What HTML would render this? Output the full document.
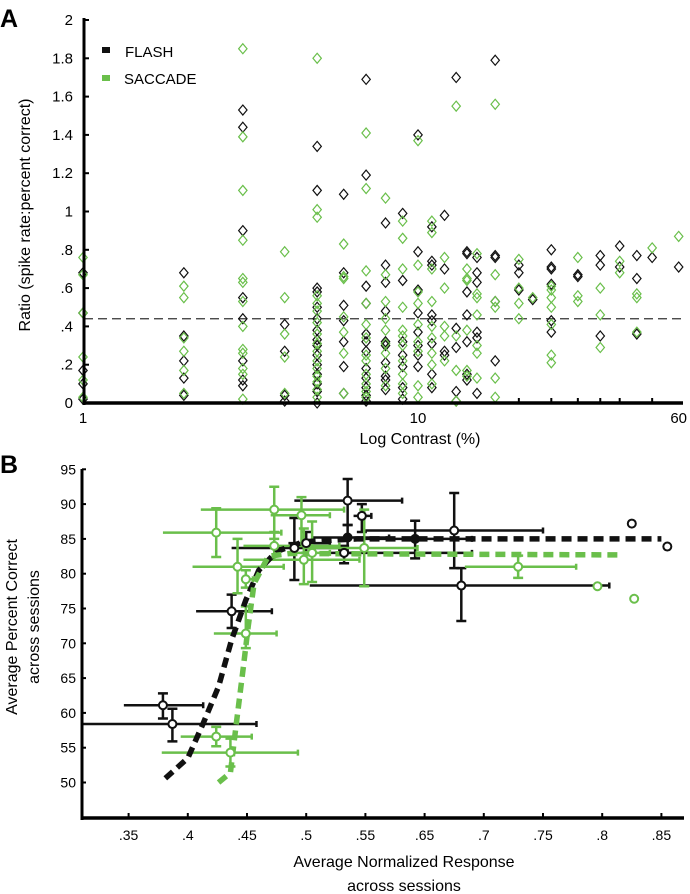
<!DOCTYPE html>
<html><head><meta charset="utf-8"><style>
body{margin:0;background:#fff;}
svg{display:block;font-family:"Liberation Sans",sans-serif;}
</style></head><body>
<svg id="fig" width="690" height="894" viewBox="0 0 690 894">
<text x="0" y="27" font-size="25" font-weight="bold">A</text>
<text x="0" y="473" font-size="25" font-weight="bold">B</text>
<g id="A"></g><g id="B"></g>
</svg>
<script>
// ---------- Panel A data ----------
const contrasts=[1,2,3,4,5,6,7,8,9,10,11,12,13,14,15,17,20,22,25,30,35,40,45,50,60];
const flashRatios=[
[0.68,0.47,0.17,0.10,0.02],
[0.68,0.35,0.22,0.13,0.04],
[1.53,1.44,0.90,0.55,0.44,0.22,0.12,0.09],
[0.41,0.27,0.04,0.01],
[1.34,1.11,0.60,0.58,0.50,0.44,0.38,0.33,0.30,0.25,0.20,0.15,0.10,0.06,0.0],
[1.09,0.68,0.51,0.43,0.32,0.19,0.05],
[1.69,1.19,0.61,0.52,0.36,0.32,0.27,0.18,0.13,0.08,0.04,0.01],
[0.94,0.72,0.63,0.48,0.32,0.30,0.21,0.14,0.12,0.07],
[0.99,0.64,0.32,0.25,0.19,0.08,0.02],
[1.40,0.79,0.59,0.47,0.37,0.30,0.25,0.19],
[0.92,0.74,0.72,0.46,0.43,0.31,0.15,0.08],
[0.98,0.70,0.27,0.25],
[1.70,0.39,0.29,0.06,0.01],
[0.79,0.78,0.58,0.46,0.32,0.15,0.12],
[0.76,0.68,0.63,0.37,0.34,0.05],
[1.79,0.77,0.76,0.53,0.22],
[0.72,0.68,0.59],
[0.54],
[0.80,0.71,0.70,0.62,0.43,0.37],
[0.67,0.66],
[0.77,0.72,0.35],
[0.82,0.71],
[0.77,0.65,0.36],
[0.76],
[0.71]];
const saccadeRatios=[
[0.76,0.67,0.47,0.24,0.12,0.03],
[0.61,0.55,0.34,0.27,0.17,0.05],
[1.85,1.39,1.11,0.85,0.65,0.63,0.53,0.40,0.28,0.26,0.18,0.15,0.02],
[0.79,0.55,0.36,0.24,0.05],
[1.80,1.01,0.97,0.56,0.52,0.48,0.42,0.36,0.31,0.27,0.22,0.18,0.14,0.11,0.07,0.03],
[0.83,0.66,0.65,0.45,0.37,0.26,0.05],
[1.41,1.12,0.69,0.52,0.41,0.34,0.25,0.22,0.15,0.10,0.06,0.03],
[1.07,0.67,0.53,0.44,0.38,0.31,0.26,0.18,0.09],
[0.95,0.86,0.70,0.50,0.38,0.35,0.30,0.22,0.15,0.10,0.05],
[1.37,0.72,0.58,0.52,0.41,0.32,0.27,0.09,0.03],
[0.95,0.89,0.70,0.53,0.40,0.34,0.26,0.20,0.10],
[0.76,0.60,0.40,0.35,0.22],
[1.55,0.35,0.17,0.01],
[0.70,0.65,0.64,0.38,0.17,0.14],
[0.78,0.57,0.55,0.46,0.30,0.26,0.13],
[1.56,0.67,0.53,0.50,0.13,0.03],
[0.75,0.60,0.52,0.44],
[0.55],
[0.61,0.59,0.55,0.50,0.41,0.25,0.21],
[0.76,0.56,0.53],
[0.60,0.46,0.29],
[0.74,0.68],
[0.57,0.55,0.37],
[0.81],
[0.87]];
const aYTicks=[0,0.2,0.4,0.6,0.8,1,1.2,1.4,1.6,1.8,2];
const aYLabels=["0",".2",".4",".6",".8","1","1.2","1.4","1.6","1.8","2"];
const aXLabelVals=[1,10,60];
const aXMinorTicks=[20,25,30,35,40,50];
const refRatio=0.44;

// ---------- Panel B data ----------
const bXTicks=[0.35,0.40,0.45,0.50,0.55,0.60,0.65,0.70,0.75,0.80];
const bXLabels=[".35",".4",".45",".5",".55",".65",".7",".75",".8",".85"];
const bYTicks=[50,55,60,65,70,75,80,85,90,95];
const flashX=[0.379,0.387,0.437,0.490,0.500,0.535,0.547,0.535,0.592,0.625,0.631,0.532,0.775,0.805];
const flashY=[61.1,58.4,74.6,83.7,84.4,90.5,88.3,85.2,85.0,86.2,78.3,83.0,87.2,83.9];
const flashXLo=[0.346,0.31,0.407,0.437,0.485,0.490,0.540,0.505,0.550,0.550,0.503,0.520,null,null];
const flashXHi=[0.413,0.458,0.471,0.528,0.520,0.581,0.555,0.570,0.640,0.700,0.756,0.640,null,null];
const flashYLo=[59.2,55.9,72.2,79.1,83.0,87.0,86.0,83.0,82.2,80.8,73.2,81.5,null,null];
const flashYHi=[62.8,60.6,77.0,88.0,86.0,93.6,90.0,87.0,87.6,91.6,80.8,84.0,null,null];
const flashFilled=[0,0,0,0,0,0,0,1,1,0,0,0,0,0];
const saccX=[0.424,0.473,0.496,0.442,0.449,0.473,0.498,0.505,0.549,0.679,0.746,0.777,0.449,0.424,0.436];
const saccY=[85.9,89.2,88.4,81.0,79.2,84.0,82.0,83.0,83.7,81.0,78.2,76.4,71.4,56.6,54.3];
const saccXLo=[0.379,0.411,0.470,0.404,0.445,0.447,0.447,0.490,0.498,0.634,null,null,0.422,0.394,0.378];
const saccXHi=[0.479,0.532,0.520,0.481,0.455,0.528,0.545,0.520,0.594,0.728,null,null,0.475,0.454,0.493];
const saccYLo=[82.4,85.0,84.0,77.2,78.0,82.0,78.5,78.8,78.2,79.4,null,null,69.3,55.2,52.3];
const saccYHi=[89.4,92.5,91.0,85.0,80.5,86.0,86.5,87.5,89.2,82.6,null,null,75.3,58.0,56.3];
const flashFitX=[0.381,0.40,0.413,0.426,0.437,0.449,0.460,0.475,0.498,0.543,0.80];
const flashFitY=[50.6,53.5,58.5,63.8,70.5,76.2,80.5,83.2,84.6,85.0,85.0];
const saccFitX=[0.426,0.436,0.441,0.447,0.451,0.456,0.468,0.486,0.764];
const saccFitY=[50.0,51.4,58.5,66.7,72.4,78.6,82.5,82.9,82.7];

const NS="http://www.w3.org/2000/svg";
const GREEN="#6abf4b";
function mk(parent,tag,attrs){const e=document.createElementNS(NS,tag);for(const k in attrs)e.setAttribute(k,attrs[k]);parent.appendChild(e);return e;}

// ---------- Panel A ----------
const gA=document.getElementById('A');
const ax=c=>83+Math.log10(c)*335;
const ay=v=>403-v*191.5;
for(let i=0;i<aYTicks.length;i++){
  const t=mk(gA,'text',{x:73,y:ay(aYTicks[i])+5,'font-size':15,'text-anchor':'end'});t.textContent=aYLabels[i];
  
  
  const l=mk(gA,'line',{x1:84,x2:89,y1:ay(aYTicks[i]),y2:ay(aYTicks[i]),stroke:'#000','stroke-width':2});
  
  
}
for(const c of aXLabelVals){
  const t=mk(gA,'text',{x:ax(c),y:423,'font-size':15,'text-anchor':'middle'});t.textContent=String(c);
  
  
}
for(const c of aXMinorTicks){
  const l=mk(gA,'line',{x1:ax(c),x2:ax(c),y1:403,y2:398,stroke:'#000','stroke-width':2});
  
  
}
const refL=mk(gA,'line',{x1:84,x2:682,y1:ay(refRatio),y2:ay(refRatio),stroke:'#333','stroke-width':1.3,'stroke-dasharray':'9,5'});


function diamond(g,x,y,col,name){
  const p=mk(g,'path',{d:`M${x} ${y-5}L${x+4.2} ${y}L${x} ${y+5}L${x-4.2} ${y}Z`,fill:'none',stroke:col,'stroke-width':1.2});
  
  
}
for(let i=0;i<contrasts.length;i++){
  for(const v of flashRatios[i]) diamond(gA,ax(contrasts[i]),ay(v),'#111','flash-point');
  for(const v of saccadeRatios[i]) diamond(gA,ax(contrasts[i]),ay(v),GREEN,'saccade-point');
}
const yaA=mk(gA,'line',{x1:84,x2:84,y1:18,y2:405,stroke:'#000','stroke-width':3});


const xaA=mk(gA,'line',{x1:83,x2:683,y1:403,y2:403,stroke:'#000','stroke-width':3.5});


let t=mk(gA,'text',{x:420,y:444,'font-size':16,'text-anchor':'middle'});t.textContent='Log Contrast (%)';


t=mk(gA,'text',{x:0,y:0,'font-size':16,'text-anchor':'middle',transform:'translate(30,215) rotate(-90)'});t.textContent='Ratio (spike rate:percent correct)';


let r=mk(gA,'rect',{x:102,y:47,width:8,height:6,fill:'#111'});


t=mk(gA,'text',{x:125,y:57,'font-size':15});t.textContent='FLASH';


r=mk(gA,'rect',{x:102,y:75,width:8,height:6,fill:GREEN});


t=mk(gA,'text',{x:124,y:84,'font-size':15});t.textContent='SACCADE';



// ---------- Panel B ----------
const gB=document.getElementById('B');
const bx=v=>128.6+(v-0.35)/0.05*59.2;
const by=v=>469.3+(95-v)*6.96;
for(const v of bYTicks){
  const tt=mk(gB,'text',{x:76,y:by(v)+5,'font-size':14,'text-anchor':'end'});tt.textContent=String(v);
  
  
  const l=mk(gB,'line',{x1:82,x2:86,y1:by(v),y2:by(v),stroke:'#000','stroke-width':2});
  
  
}
for(let i=0;i<bXTicks.length;i++){
  const tt=mk(gB,'text',{x:bx(bXTicks[i]),y:840,'font-size':14,'text-anchor':'middle'});tt.textContent=bXLabels[i];
  
  
  const l=mk(gB,'line',{x1:bx(bXTicks[i]),x2:bx(bXTicks[i]),y1:818,y2:813,stroke:'#000','stroke-width':2});
  
  
}
const clampX=v=>Math.max(82,bx(v));
function errs(col,X,Y,XL,XH,YL,YH,name){
  for(let i=0;i<X.length;i++){
    if(XL[i]!=null){
      const l=mk(gB,'path',{d:`M${clampX(XL[i])} ${by(Y[i])}H${bx(XH[i])}M${bx(XH[i])} ${by(Y[i])-3}v6`,stroke:col,'stroke-width':2.5,fill:'none'});
      
      
    }
    if(YL[i]!=null){
      const x=bx(X[i]);
      const l=mk(gB,'path',{d:`M${x} ${by(YL[i])}V${by(YH[i])}M${x-5} ${by(YL[i])}h10M${x-5} ${by(YH[i])}h10`,stroke:col,'stroke-width':2.5,fill:'none'});
      
      
    }
  }
}
errs('#111',flashX,flashY,flashXLo,flashXHi,flashYLo,flashYHi,'flash');
errs(GREEN,saccX,saccY,saccXLo,saccXHi,saccYLo,saccYHi,'saccade');
function fit(X,Y,col,name){
  let d='';for(let i=0;i<X.length;i++)d+=(i?'L':'M')+bx(X[i])+' '+by(Y[i]);
  const p=mk(gB,'path',{d:d,stroke:col,'stroke-width':5.5,fill:'none','stroke-dasharray':'10,6'});
  
  
}
fit(flashFitX,flashFitY,'#111','flash-fit-curve');
fit(saccFitX,saccFitY,GREEN,'saccade-fit-curve');
for(let i=0;i<flashX.length;i++){
  const c=mk(gB,'circle',{cx:bx(flashX[i]),cy:by(flashY[i]),r:4,fill:flashFilled[i]?'#111':'#fff',stroke:'#111','stroke-width':2});
  
  
}
for(let i=0;i<saccX.length;i++){
  const c=mk(gB,'circle',{cx:bx(saccX[i]),cy:by(saccY[i]),r:4,fill:'#fff',stroke:GREEN,'stroke-width':2});
  
  
}
const yaB=mk(gB,'line',{x1:82,x2:82,y1:469,y2:820,stroke:'#000','stroke-width':3});


const xaB=mk(gB,'line',{x1:81,x2:684,y1:818,y2:818,stroke:'#000','stroke-width':3.5});


t=mk(gB,'text',{x:404,y:867,'font-size':16,'text-anchor':'middle'});t.textContent='Average Normalized Response';


t=mk(gB,'text',{x:404,y:891,'font-size':16,'text-anchor':'middle'});t.textContent='across sessions';


t=mk(gB,'text',{x:0,y:0,'font-size':16,'text-anchor':'middle',transform:'translate(17,627) rotate(-90)'});t.textContent='Average Percent Correct';


t=mk(gB,'text',{x:0,y:0,'font-size':16,'text-anchor':'middle',transform:'translate(39,627) rotate(-90)'});t.textContent='across sessions';


</script>
</body></html>
